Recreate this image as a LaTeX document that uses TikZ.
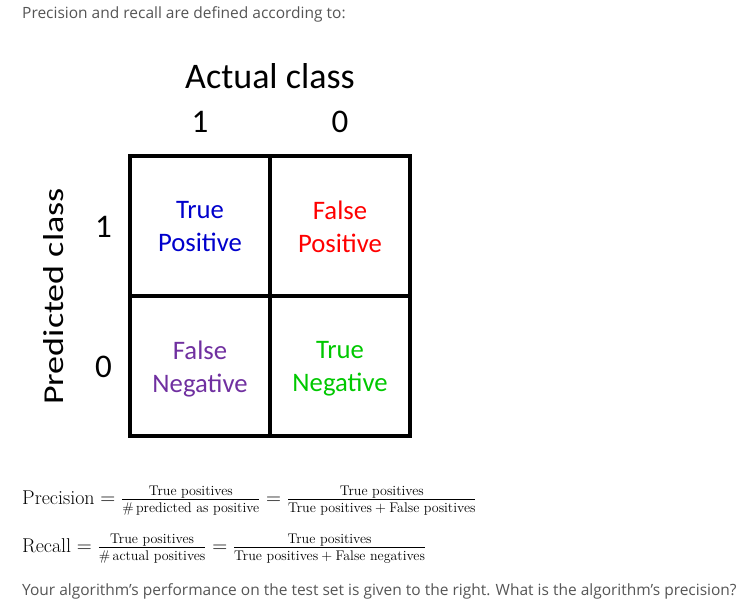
\documentclass[tikz,border=0pt]{standalone}
\usepackage{fontspec}
\usepackage{amsmath}
\usetikzlibrary{positioning}
\newfontfamily\calibri{Carlito}
\newfontfamily\opensans{Open Sans}
\definecolor{tpblue}{RGB}{0,0,204}
\definecolor{fpred}{RGB}{255,0,0}
\definecolor{fnpurple}{RGB}{112,48,160}
\definecolor{tngreen}{RGB}{0,200,0}
\definecolor{textgray}{RGB}{85,85,85}
\newcommand{\plusgap}{\mathbin{\mkern4mu+\mkern4mu}}

\begin{document}
\begin{tikzpicture}[
    x=1pt, y=1pt,
    cell/.style={rectangle, draw, line width=4pt, minimum width=140pt, minimum height=140pt, outer sep=0pt, inner sep=0pt, align=center, text depth=-2pt, font=\calibri\fontsize{26.7}{33}\selectfont},
    axislabel/.style={inner sep=0pt, font=\calibri\fontsize{36}{40}\selectfont},
    digit/.style={inner sep=0pt, font=\calibri\fontsize{33}{36}\selectfont},
    prose/.style={inner sep=0pt, anchor=base west, text=textgray, font=\opensans\fontsize{15.5}{18}\selectfont},
    formula/.style={inner sep=0pt, anchor=base west, font=\fontsize{20}{24}\selectfont}
]
\useasboundingbox (0,0) rectangle (744,610);

% Confusion matrix
\node (tp) [cell, text=tpblue] at (200,383.5) {True\\Positive};
\node (fp) [cell, text=fpred, right=0pt of tp] {False\\Positive};
\node (fn) [cell, text=fnpurple, below=0pt of tp] {False\\Negative};
\node (tn) [cell, text=tngreen, right=0pt of fn] {True\\Negative};

% Axis labels
\node (actual) [axislabel, anchor=base] at ([yshift=68pt]tp.north east) {Actual class};
\node (act1) [digit, anchor=base] at ([yshift=24pt]tp.north) {1};
\node (act0) [digit, anchor=base] at ([yshift=24pt]fp.north) {0};
\node (pred) [axislabel, rotate=90, yscale=0.8, anchor=base] at ([xshift=-67pt]tp.south west) {Predicted class};
\node (pred1) [digit, left=18pt of tp] {1};
\node (pred0) [digit, left=18pt of fn] {0};

% Text and formulas
\node (intro) [prose] at (22,591) {Precision and recall are defined according to:};
\node (prec) [formula] at (22,105) {$\text{Precision} = \frac{\text{True positives}}{\#\,\text{predicted as positive}} = \frac{\text{True positives}}{\text{True positives} \plusgap \text{False positives}}$};
\node (rec) [formula] at (22,57) {$\text{Recall} = \frac{\text{True positives}}{\#\,\text{actual positives}} = \frac{\text{True positives}}{\text{True positives} \plusgap \text{False negatives}}$};
\node (question) [prose] at (22,14) {Your algorithm’s performance on the test set is given to the right. What is the algorithm’s precision?};

\end{tikzpicture}
\end{document}
